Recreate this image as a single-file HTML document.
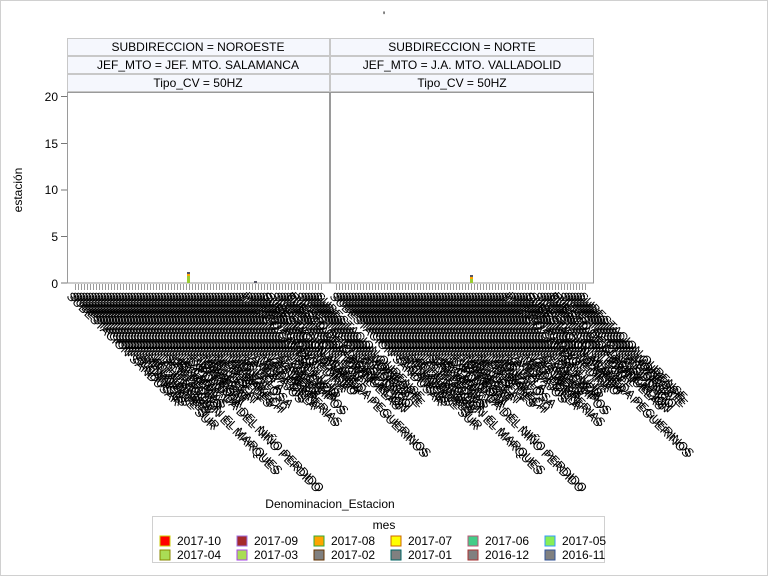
<!DOCTYPE html>
<html><head><meta charset="utf-8"><style>
html,body{margin:0;padding:0;background:#fff}
svg{display:block;font-family:"Liberation Sans",sans-serif}
</style></head><body>
<svg width="768" height="576" xmlns="http://www.w3.org/2000/svg">
<defs>
<pattern id="tk" width="3" height="6" patternUnits="userSpaceOnUse"><rect x="0" y="0" width="1" height="6" fill="#9a9a9a"/></pattern>
<g id="labs" font-size="12" fill="#000">
<text transform="translate(4,297) rotate(45)">SUBESTACION SANDUSAR</text>
<text transform="translate(10,297) rotate(45)">SUBESTACION ALCAÑICES</text>
<text transform="translate(16,297) rotate(45)">SUBESTACION BENAVENTE SUR</text>
<text transform="translate(22,297) rotate(45)">SUBESTACION VILLALBA REY</text>
<text transform="translate(28,297) rotate(45)">SUBESTACION LA HERRERA</text>
<text transform="translate(34,297) rotate(45)">SUBESTACION DE TRACCION EL MARQUES</text>
<text transform="translate(40,297) rotate(45)">SUBESTACION SAN PEDRO</text>
<text transform="translate(46,297) rotate(45)">SUBESTACION HERRERIAS</text>
<text transform="translate(52,297) rotate(45)">SUBESTACION LA CAMA</text>
<text transform="translate(58,297) rotate(45)">SUBESTACION EXPLANADA DEL NIÑO PERDIDO</text>
<text transform="translate(64,297) rotate(45)">SUBESTACION RIBARROJA</text>
<text transform="translate(70,297) rotate(45)">SUBESTACION TORREGAT</text>
<text transform="translate(76,297) rotate(45)">SUBESTACION MOREGAT</text>
<text transform="translate(82,297) rotate(45)">SUBESTACION DE LLEGAT</text>
<text transform="translate(88,297) rotate(45)">SUBESTACION MERES</text>
<text transform="translate(94,297) rotate(45)">SUBESTACION LOS REDES</text>
<text transform="translate(100,297) rotate(45)">SUBESTACION MARRAKECH</text>
<text transform="translate(106,297) rotate(45)">SUBESTACION MONZA</text>
<text transform="translate(112,297) rotate(45)">SUBESTACION DE LA LOSA</text>
<text transform="translate(118,297) rotate(45)">SUBESTACION LA VELA</text>
<text transform="translate(124,297) rotate(45)">SUBESTACION AVILA</text>
<text transform="translate(130,297) rotate(45)">SUBESTACION TARDAJOS</text>
<text transform="translate(136,297) rotate(45)">SUBESTACION VALDECILLA</text>
<text transform="translate(142,297) rotate(45)">SUBESTACION LAS HERRERIAS</text>
<text transform="translate(148,297) rotate(45)">SUBESTACION ALAMEDA</text>
<text transform="translate(154,297) rotate(45)">SUBESTACION CAMPOS</text>
<text transform="translate(160,297) rotate(45)">SUBESTACION LOS CAMPOS</text>
<text transform="translate(166,297) rotate(45)">SUBESTACION PALENCIA</text>
<text transform="translate(172,297) rotate(45)">SUBESTACION SAN LUIS</text>
<text transform="translate(178,297) rotate(45)">PUESTO CAMBIO</text>
<text transform="translate(184,297) rotate(45)">SUBESTACION MEDINA</text>
<text transform="translate(190,297) rotate(45)">SUBESTACION OLMEDO</text>
<text transform="translate(196,297) rotate(45)">SUBESTACION ARANDA</text>
<text transform="translate(200,297) rotate(45)">SUBESTACION ALAMEDA PEGUERINOS</text>
<text transform="translate(208,297) rotate(45)">SUBESTACION LEON</text>
<text transform="translate(214,297) rotate(45)">SUBESTACION TORAL</text>
<text transform="translate(220,297) rotate(45)">SUBESTACION BRAÑUELAS</text>
<text transform="translate(224,297) rotate(45)">PUESTO DE CLASIFICACION</text>
<text transform="translate(232,297) rotate(45)">SUBESTACION BUSDONGO</text>
<text transform="translate(238,297) rotate(45)">SUBESTACION ASTORGA</text>
<text transform="translate(244,297) rotate(45)">SUBESTACION MONFORTE</text>
<text transform="translate(250,297) rotate(45)">SUBESTACION OURENSE</text>
</g>
</defs>
<rect x="0.5" y="0.5" width="767" height="575" fill="#fff" stroke="#d0d0d0"/>
<text x="384" y="20" font-size="12" text-anchor="middle">'</text>
<g font-size="12" text-anchor="middle" fill="#000">
<rect x="67.5" y="38.5" width="262" height="17" fill="#f5f7fd" stroke="#c8c8c8"/>
<rect x="67.5" y="56.5" width="262" height="17" fill="#f5f7fd" stroke="#c8c8c8"/>
<rect x="67.5" y="74.5" width="262" height="17" fill="#f5f7fd" stroke="#c8c8c8"/>
<rect x="330.5" y="38.5" width="263" height="17" fill="#f5f7fd" stroke="#c8c8c8"/>
<rect x="330.5" y="56.5" width="263" height="17" fill="#f5f7fd" stroke="#c8c8c8"/>
<rect x="330.5" y="74.5" width="263" height="17" fill="#f5f7fd" stroke="#c8c8c8"/>
<text x="198" y="51">SUBDIRECCION = NOROESTE</text>
<text x="198" y="69">JEF_MTO = JEF. MTO. SALAMANCA</text>
<text x="198" y="87">Tipo_CV = 50HZ</text>
<text x="462" y="51">SUBDIRECCION = NORTE</text>
<text x="462" y="69">JEF_MTO = J.A. MTO. VALLADOLID</text>
<text x="462" y="87">Tipo_CV = 50HZ</text>
</g>
<rect x="67.5" y="92.5" width="262" height="190.5" fill="none" stroke="#9a9a9a"/>
<rect x="330.5" y="92.5" width="263" height="190.5" fill="none" stroke="#9a9a9a"/>
<g font-size="12" text-anchor="end" fill="#000">
<line x1="61" y1="96.5" x2="67" y2="96.5" stroke="#777"/>
<line x1="61" y1="143.5" x2="67" y2="143.5" stroke="#777"/>
<line x1="61" y1="190" x2="67" y2="190" stroke="#777"/>
<line x1="61" y1="236.5" x2="67" y2="236.5" stroke="#777"/>
<line x1="61" y1="283" x2="67" y2="283" stroke="#777"/>
<text x="58" y="101">20</text><text x="58" y="148">15</text><text x="58" y="194">10</text><text x="58" y="241">5</text><text x="58" y="288">0</text>
</g>
<text transform="translate(22,190) rotate(-90)" font-size="12" text-anchor="middle">estación</text>
<rect x="73" y="284" width="250" height="6" fill="url(#tk)"/>
<rect x="336" y="284" width="250" height="6" fill="url(#tk)"/>
<rect x="187" y="272" width="3" height="11" fill="#9acd32"/>
<rect x="187" y="274" width="3" height="2" fill="#ffa500"/>
<rect x="187" y="272" width="3" height="2" fill="#556"/>
<rect x="254" y="281" width="3" height="2" fill="#556"/>
<rect x="470" y="275" width="3" height="8" fill="#9acd32"/>
<rect x="470" y="277" width="3" height="2" fill="#ffa500"/>
<rect x="470" y="275" width="3" height="2" fill="#556"/>
<use href="#labs" x="62"/>
<use href="#labs" x="65"/>
<use href="#labs" x="325"/>
<use href="#labs" x="328"/>
<text x="330" y="508" font-size="12" text-anchor="middle">Denominacion_Estacion</text>
<rect x="152.5" y="516.5" width="452" height="46" fill="#fff" stroke="#d0d0d0"/>
<text x="384" y="529" font-size="12" text-anchor="middle">mes</text>
<g font-size="12">
<rect x="160" y="536" width="10" height="10" fill="#f00" stroke="#cc0"/><text x="177" y="545">2017-10</text>
<rect x="237" y="536" width="10" height="10" fill="#a52a2a" stroke="#a070e0"/><text x="254" y="545">2017-09</text>
<rect x="314" y="536" width="10" height="10" fill="#ffa500" stroke="#3a3"/><text x="331" y="545">2017-08</text>
<rect x="391" y="536" width="10" height="10" fill="#ff0" stroke="#c60"/><text x="408" y="545">2017-07</text>
<rect x="468" y="536" width="10" height="10" fill="#4c8" stroke="#b57"/><text x="485" y="545">2017-06</text>
<rect x="545" y="536" width="10" height="10" fill="#8e5" stroke="#39f"/><text x="562" y="545">2017-05</text>
<rect x="160" y="550" width="10" height="10" fill="#ad5" stroke="#880"/><text x="177" y="559">2017-04</text>
<rect x="237" y="550" width="10" height="10" fill="#ad5" stroke="#a4e"/><text x="254" y="559">2017-03</text>
<rect x="314" y="550" width="10" height="10" fill="#808080" stroke="#630"/><text x="331" y="559">2017-02</text>
<rect x="391" y="550" width="10" height="10" fill="#808080" stroke="#066"/><text x="408" y="559">2017-01</text>
<rect x="468" y="550" width="10" height="10" fill="#808080" stroke="#a33"/><text x="485" y="559">2016-12</text>
<rect x="545" y="550" width="10" height="10" fill="#808080" stroke="#359"/><text x="562" y="559">2016-11</text>
</g>
</svg>
</body></html>
